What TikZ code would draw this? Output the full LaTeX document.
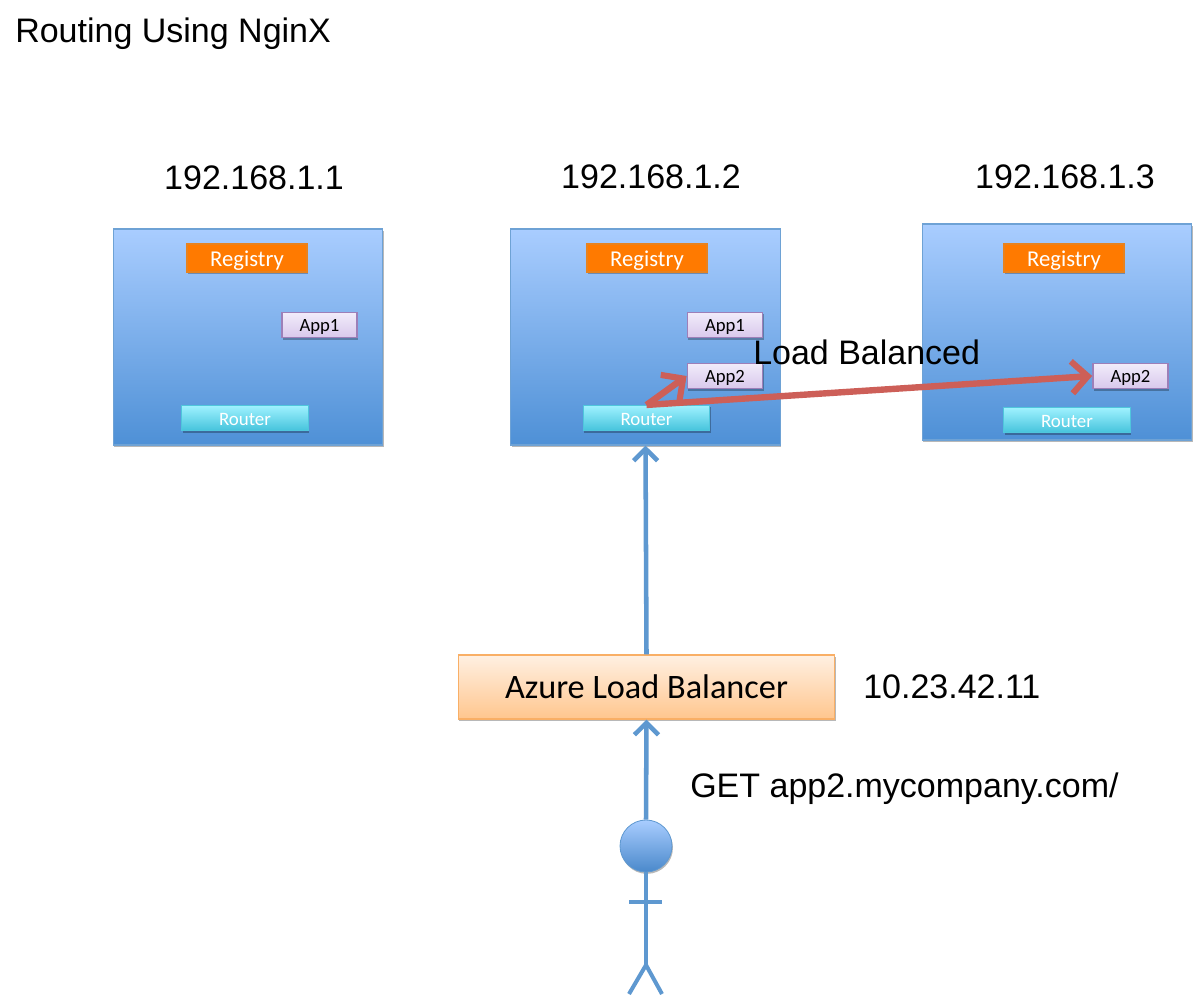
\documentclass[tikz,border=0pt]{standalone}
\usepackage{fontspec}
\setmainfont{Liberation Sans}
\newfontfamily\calfont{Carlito}
\usetikzlibrary{shadows,arrows.meta}
\definecolor{linkblue}{HTML}{5E98D0}
\definecolor{linkred}{HTML}{CD5F58}
\tikzset{
  px/.style={x=0.75pt,y=-0.75pt},
  softshadow/.style={drop shadow={shadow xshift=0.7pt,shadow yshift=-1.4pt,opacity=0.28,fill=black}},
  server/.style={rectangle,draw=linkblue!90!white,line width=0.8pt,top color=ltop,bottom color=lbot,minimum width=202pt,minimum height=162pt,softshadow,inner sep=0pt},
  reg/.style={rectangle,draw=regedge,line width=0.8pt,fill=regfill,minimum width=90pt,minimum height=21pt,softshadow,font=\calfont\fontsize{17}{19}\selectfont,text=white,inner sep=0pt,text height=16pt,text depth=3.3pt},
  app/.style={rectangle,draw=appedge,line width=1.1pt,top color=apptop,bottom color=appbot,minimum width=56.5pt,minimum height=19pt,softshadow,font=\calfont\fontsize{14}{16}\selectfont,text=black,inner sep=0pt,text height=11.5pt,text depth=2.5pt},
  router/.style={rectangle,draw=rtedge,line width=0.6pt,top color=rttop,bottom color=rtbot,minimum width=95pt,minimum height=19pt,softshadow,font=\calfont\fontsize{14.2}{16}\selectfont,text=white,inner sep=0pt,text height=12pt,text depth=1pt},
  lb/.style={rectangle,draw=lbedge,line width=0.9pt,top color=lbtop,bottom color=lbbot,minimum width=282.5pt,minimum height=48pt,softshadow,font=\calfont\fontsize{25.7}{30}\selectfont,text=black,inner sep=0pt},
  head/.style={circle,draw=linkblue,line width=0.6pt,top color=ltop,bottom color=lbot!95!black,minimum size=39pt,softshadow,inner sep=0pt},
  lbl/.style={font=\fontsize{25.5}{30}\selectfont,text=black,inner sep=0pt},
  bluearrow/.style={draw=linkblue,line width=3.4pt,-{Straight Barb[length=9pt,width=18pt,line width=3.4pt]}},
  redarrow/.style={draw=linkred,line width=4.8pt,-{Straight Barb[length=12pt,width=24pt,line width=4.6pt]}},
  limb/.style={draw=linkblue,line width=3pt},
}
\definecolor{ltop}{HTML}{A9CDFF}
\definecolor{lbot}{HTML}{4E90D6}
\definecolor{regfill}{HTML}{FF7A00}
\definecolor{regedge}{HTML}{E8821E}
\definecolor{appedge}{HTML}{9D7FB8}
\definecolor{apptop}{HTML}{F2ECFA}
\definecolor{appbot}{HTML}{D8C8EC}
\definecolor{rtedge}{HTML}{4FC6DC}
\definecolor{rttop}{HTML}{A0F2FF}
\definecolor{rtbot}{HTML}{45C3DC}
\definecolor{lbedge}{HTML}{F9AF66}
\definecolor{lbtop}{HTML}{FFF0E2}
\definecolor{lbbot}{HTML}{FFC68E}
\begin{document}
\begin{tikzpicture}[px]
\useasboundingbox (0,0) rectangle (1199,1006);
\node[lbl,anchor=west] (title) at (15,34) {Routing Using NginX};
\node[lbl] (ip1) at (254,178) {192.168.1.1};
\node[lbl] (ip2) at (651,177) {192.168.1.2};
\node[lbl] (ip3) at (1065,177) {192.168.1.3};

\node[server] (s1) at (248,337) {};
\node[server] (s2) at (645.5,337) {};
\node[server] (s3) at (1057,332) {};

\node[reg] (r1) at (247,258) {Registry};
\node[reg] (r2) at (647,258) {Registry};
\node[reg] (r3) at (1064,258) {Registry};

\node[app] (a11) at (319.5,325) {App1};
\node[app] (a21) at (725,325) {App1};
\node[app] (a22) at (725,376) {App2};
\node[app] (a32) at (1130.5,376) {App2};

\node[router] (rt1) at (245,418) {Router};
\node[router] (rt2) at (646.5,418) {Router};
\node[router] (rt3) at (1067,420) {Router};

\node[lb] (az) at (646.5,687) {Azure Load Balancer};
\node[lbl,anchor=west] (ipaz) at (863,687) {10.23.42.11};
\node[lbl,anchor=west] (get) at (690,789) {GET app2.mycompany.com/};

\node[head] (hd) at (646,846) {};
\coordinate (hip) at (646,965);
\coordinate (armL) at (629,902);
\coordinate (armR) at (662,902);
\coordinate (footL) at (629,994);
\coordinate (footR) at (662,994);
\draw[limb] (hd.south) -- (hip);
\draw[limb] (armL) -- (armR);
\draw[limb] (footL) -- (hip) -- (footR);

\draw[bluearrow] (hd.north) -- (az.south);
\draw[bluearrow] (az.north) -- (s2.south);

\draw[redarrow] (rt2.north) -- (a22.west);
\draw[redarrow] (rt2.north) -- (a32.west);
\node[lbl,anchor=west] (lbt) at (753,352) {Load Balanced};
\end{tikzpicture}
\end{document}
